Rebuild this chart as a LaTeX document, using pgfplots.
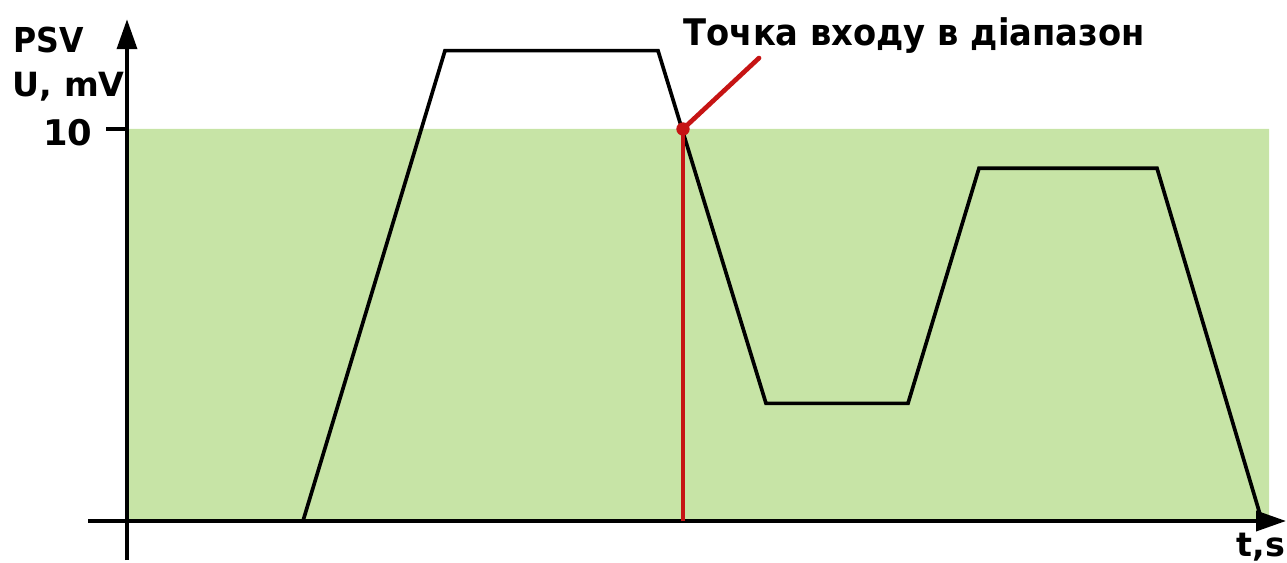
\documentclass[border=0pt]{standalone}
\usepackage{pgfplots}
\pgfplotsset{compat=1.18}
\usepackage{fontspec}
\setmainfont{DejaVu Sans}
\newfontfamily\labfont[FakeStretch=0.92]{DejaVu Sans}
\usetikzlibrary{arrows.meta}
\definecolor{zone}{RGB}{199,228,166}
\definecolor{entryred}{RGB}{198,20,20}

\begin{document}
\begin{tikzpicture}
\begin{axis}[
  scale only axis,
  width=386.1pt, height=168.9pt,
  xmin=0, xmax=1287,
  ymin=-1.0714, ymax=13.291,
  hide axis,
  clip=false,
]
  % range 0..10 mV
  \addplot[draw=none, fill=zone] coordinates {
    (127,0) (1269,0) (1269,10) (127,10)
  } \closedcycle;

  % axes
  \draw[line width=1.1pt, -{Triangle[length=9pt,width=6pt]}]
    (axis cs:88,0) -- (axis cs:1286,0);
  \draw[line width=1.1pt, -{Triangle[length=9pt,width=6pt]}]
    (axis cs:127,-1.0) -- (axis cs:127,12.8);
  \draw[line width=1.1pt] (axis cs:106,10) -- (axis cs:127,10);

  % signal
  \addplot[black, line width=1.1pt, line join=miter] coordinates {
    (303,0) (445,12) (658,12) (766,3) (908,3) (979,9) (1157,9) (1262,0)
  };

  % entry point
  \addplot[entryred, line width=0.95pt] coordinates {(683,0) (683,10)};
  \addplot[entryred, line width=1.4pt, line cap=round] coordinates {(683,10) (759,11.81)};
  \addplot[entryred, only marks, mark=*, mark size=1.8pt] coordinates {(683,10)};

  \node[anchor=base west, font=\labfont\bfseries\fontsize{11}{12}\selectfont, inner sep=0pt]
    at (axis cs:683,12.14) {Точка входу в діапазон};
  \node[anchor=base west, font=\labfont\bfseries\fontsize{10.3}{11}\selectfont, inner sep=0pt]
    at (axis cs:13,11.96) {PSV};
  \node[anchor=base west, font=\bfseries\fontsize{10}{11}\selectfont, inner sep=0pt]
    at (axis cs:12,10.82) {U, mV};
  \node[anchor=base east, font=\bfseries\fontsize{10.6}{11}\selectfont, inner sep=0pt]
    at (axis cs:93,9.57) {10};
  \node[anchor=base west, font=\bfseries\fontsize{10}{11}\selectfont, inner sep=0pt]
    at (axis cs:1236,-0.9) {t,s};
\end{axis}
\pgfresetboundingbox
\path (current axis.south west) rectangle (current axis.north east);
\end{tikzpicture}
\end{document}
